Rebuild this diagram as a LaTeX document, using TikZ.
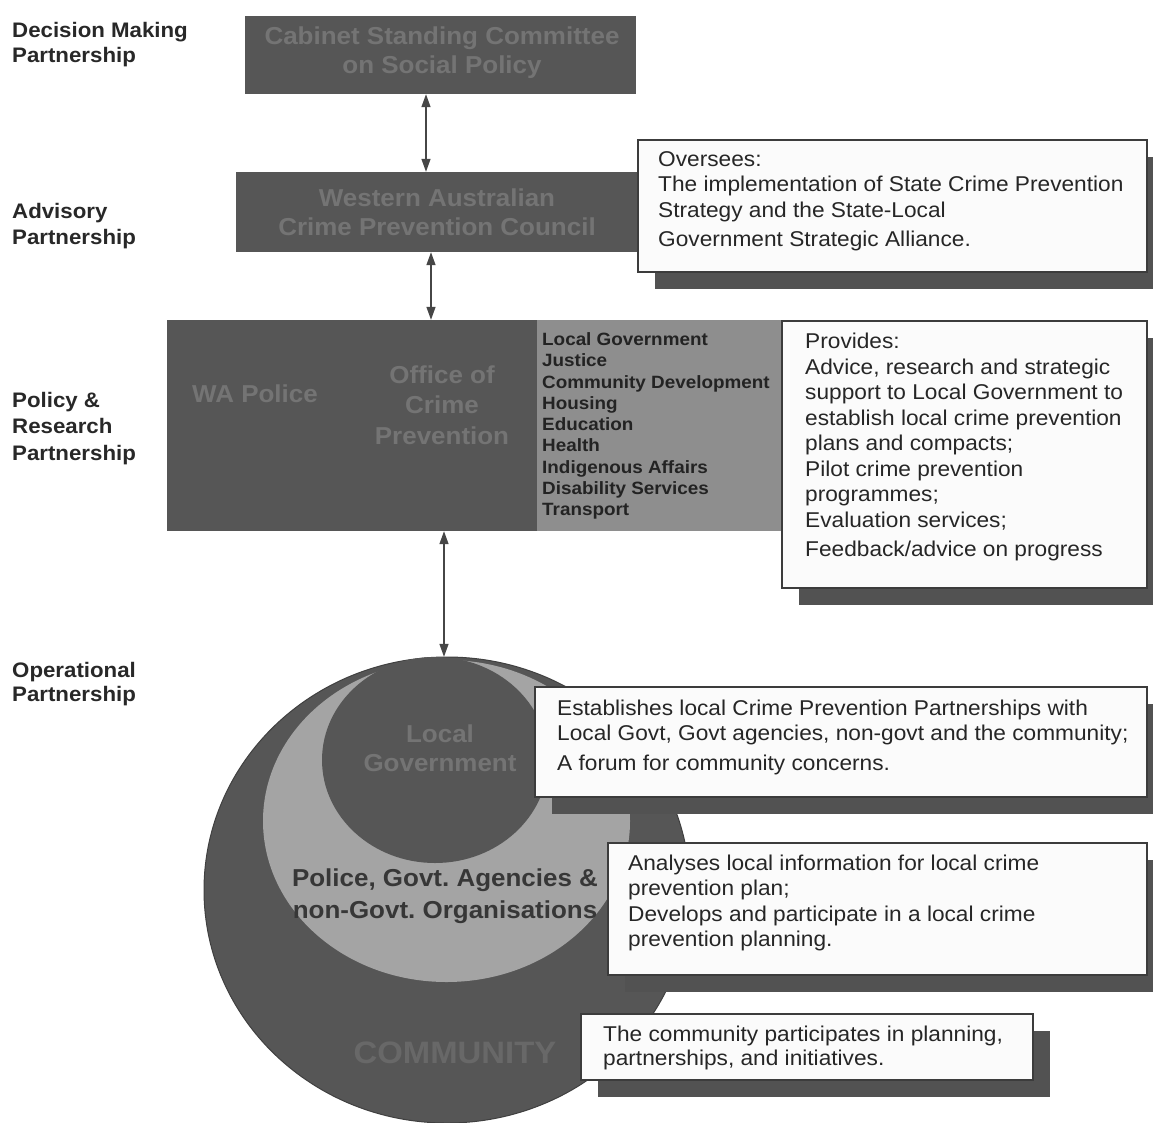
\documentclass[tikz,border=0pt]{standalone}
\usepackage{fontspec}
\setmainfont{Liberation Sans}[FakeStretch=1.06]
\usetikzlibrary{shapes.geometric,arrows.meta,shadows}
\definecolor{darkfill}{RGB}{86,86,86}
\definecolor{darktext}{RGB}{116,116,116}
\definecolor{listfill}{RGB}{142,142,142}
\definecolor{listtext}{RGB}{35,35,35}
\definecolor{lightfill}{RGB}{164,164,164}
\definecolor{lighttext}{RGB}{55,55,55}
\definecolor{shadowc}{RGB}{82,82,82}
\definecolor{boxfill}{RGB}{251,251,251}
\definecolor{boxline}{RGB}{60,60,60}
\definecolor{labeltext}{RGB}{40,40,40}
\definecolor{connc}{RGB}{70,70,70}
\begin{document}
\begin{tikzpicture}[x=1pt,y=-1pt,
  darkbox/.style={rectangle,fill=darkfill,inner sep=0pt},
  infobox/.style={rectangle,fill=boxfill,draw=boxline,line width=1.3pt,inner sep=0pt,
    drop shadow={shadow xshift=17pt,shadow yshift=-17pt,opacity=1,fill=shadowc}},
  infotext/.style={anchor=west,align=left,inner sep=0pt,font=\fontsize{21.4}{25.5}\selectfont,text=black!85},
  darktxt/.style={align=center,inner sep=0pt,font=\bfseries\fontsize{24.5}{29.5}\selectfont,text=darktext},
  sidelabel/.style={anchor=west,align=left,inner sep=0pt,font=\bfseries\fontsize{21}{25.5}\selectfont,text=labeltext},
  conn/.style={<->,>={Triangle[length=13pt,width=9pt]},line width=1.4pt,draw=connc,fill=connc},
  ring/.style={ellipse,inner sep=0pt}
]
\fill[white] (0,0) rectangle (1153,1122);
\useasboundingbox (0,0) rectangle (1153,1122);

% side labels
\node[sidelabel] (lbldm) at (12,44.5) {Decision Making\\Partnership};
\node[sidelabel] (lbladv) at (12,226) {Advisory\\Partnership};
\node[sidelabel,font=\bfseries\fontsize{21}{26.5}\selectfont] (lblpol) at (12,428.5) {Policy \&\\Research\\Partnership};
\node[sidelabel,font=\bfseries\fontsize{21}{24}\selectfont] (lblop) at (12,684) {Operational\\Partnership};

% circles
\node[ring,fill=darkfill,draw=black!75,line width=1pt,minimum width=486pt,minimum height=466pt] (comm) at (447,890) {};
\node[ring,fill=lightfill,minimum width=367pt,minimum height=322pt] (agencies) at (446.5,821) {};
\node[ring,fill=darkfill,minimum width=226pt,minimum height=206pt] (lg) at (435,760) {};
\node[darktxt] (lgtxt) at (440,748) {Local\\Government};
\node[align=center,inner sep=0pt,font=\bfseries\fontsize{24.5}{32}\selectfont,text=lighttext] (agtxt) at (445,896) {Police, Govt.\ Agencies \&\\non-Govt.\ Organisations};
\node[inner sep=0pt,font=\bfseries\fontsize{31}{36}\selectfont,text=darktext!90!black] (commtxt) at (455,1053) {COMMUNITY};

% top boxes
\node[darkbox,minimum width=391pt,minimum height=78pt] (cab) at (440.5,55) {};
\node[darktxt] (cabtxt) at (442,52.5) {Cabinet Standing Committee\\on Social Policy};
\node[darkbox,minimum width=404pt,minimum height=80pt] (wacpc) at (438,212) {};
\node[darktxt] (wacpctxt) at (437,212) {Western Australian\\Crime Prevention Council};

\node[darkbox,minimum width=370pt,minimum height=211pt] (ocp) at (352,425.5) {};
\node[darktxt] (police) at (255,394) {WA Police};
\node[darktxt,font=\bfseries\fontsize{24.5}{30.5}\selectfont] (office) at (442,405) {Office of\\Crime\\Prevention};
\node[rectangle,fill=listfill,inner sep=0pt,minimum width=248pt,minimum height=211pt] (depts) at (661,425.5) {};
\node[anchor=west,align=left,inner sep=0pt,font=\bfseries\fontsize{17.8}{21.25}\selectfont,text=listtext] (deptlist) at (542,426) {Local Government\\Justice\\Community Development\\Housing\\Education\\Health\\Indigenous Affairs\\Disability Services\\Transport};

% info boxes
\node[infobox,minimum width=509pt,minimum height=132pt] (oversee) at (892.5,206) {};
\node[infotext] (overseetxt) at (658,201) {Oversees:\\The implementation of State Crime Prevention\\Strategy and the State-Local\\[4pt]Government Strategic Alliance.};

\node[infobox,minimum width=365pt,minimum height=267pt] (provides) at (964.5,454.5) {};
\node[infotext] (providestxt) at (805,447) {Provides:\\Advice, research and strategic\\support to Local Government to\\establish local crime prevention\\plans and compacts;\\Pilot crime prevention\\programmes;\\Evaluation services;\\[4pt]Feedback/advice on progress};

\node[infobox,minimum width=612pt,minimum height=110pt] (establish) at (841,742) {};
\node[infotext] (establishtxt) at (557,737) {Establishes local Crime Prevention Partnerships with\\Local Govt, Govt agencies, non-govt and the community;\\[4pt]A forum for community concerns.};

\node[infobox,minimum width=539pt,minimum height=132pt] (analyse) at (877.5,909) {};
\node[infotext] (analysetxt) at (628,903) {Analyses local information for local crime\\prevention plan;\\Develops and participate in a local crime\\prevention planning.};

\node[infobox,minimum width=452pt,minimum height=66pt] (partic) at (807,1047) {};
\node[infotext,font=\fontsize{21.4}{24}\selectfont] (partictxt) at (603,1048) {The community participates in planning,\\partnerships, and initiatives.};

% connectors
\coordinate (xa) at (426,0);
\coordinate (xb) at (431,0);
\coordinate (xc) at (444,0);
\draw[conn] (cab.south -| xa) -- (wacpc.north -| xa);
\draw[conn] (wacpc.south -| xb) -- (ocp.north -| xb);
\draw[conn] (ocp.south -| xc) -- (lg.north -| xc);
\end{tikzpicture}
\end{document}
